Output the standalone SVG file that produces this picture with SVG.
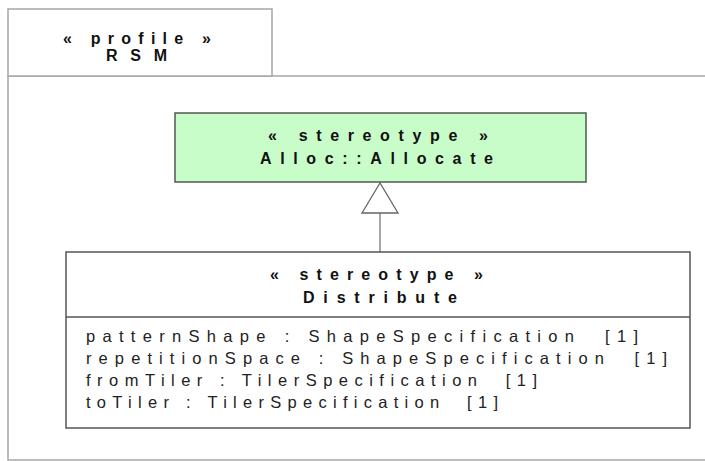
<svg xmlns="http://www.w3.org/2000/svg" width="705" height="461" viewBox="0 0 705 461">
<style>
.frame{fill:#fff;stroke:#a6a6a6;stroke-width:1.5}
.box{fill:#fff;stroke:#555;stroke-width:1.5}
.green{fill:#c8fcc8;stroke:#505a50;stroke-width:1.5}
.b{font-family:"Liberation Sans",Arial,sans-serif;font-weight:bold;font-size:16px;fill:#111}
.n{font-family:"Liberation Sans",Arial,sans-serif;font-size:16.5px;fill:#222;white-space:pre}
.conn{fill:none;stroke:#777;stroke-width:1.3}
</style>
<rect width="705" height="461" fill="#fff"/>
<g id="profile-frame">
<rect class="frame" x="8" y="76" width="710" height="384"/>
<rect class="frame" x="8" y="9" width="264" height="67"/>
<text class="b" x="63" y="44" textLength="148" lengthAdjust="spacing">« profile »</text>
<text class="b" x="106" y="61" textLength="61" lengthAdjust="spacing">RSM</text>
</g>
<g id="connectors">
<line class="conn" x1="380" y1="213" x2="380" y2="252"/>
<polygon points="380,183 362,213 398,213" fill="#fff" stroke="#666" stroke-width="1.3"/>
</g>
<g id="allocate">
<rect class="green" x="175" y="113" width="411" height="69"/>
<text class="b" x="268" y="141" textLength="220" lengthAdjust="spacing">« stereotype »</text>
<text class="b" x="260" y="164" textLength="233" lengthAdjust="spacing">Alloc::Allocate</text>
</g>
<g id="distribute">
<rect class="box" x="66" y="252" width="624" height="176"/>
<line x1="66" y1="317" x2="690" y2="317" stroke="#555" stroke-width="1.5"/>
<text class="b" x="270" y="280" textLength="213" lengthAdjust="spacing">« stereotype »</text>
<text class="b" x="303" y="303" textLength="154" lengthAdjust="spacing">Distribute</text>
<text class="n" x="86" y="342" textLength="552" lengthAdjust="spacing" xml:space="preserve">patternShape : ShapeSpecification  [1]</text>
<text class="n" x="86" y="364" textLength="581" lengthAdjust="spacing" xml:space="preserve">repetitionSpace : ShapeSpecification  [1]</text>
<text class="n" x="86" y="386" textLength="451" lengthAdjust="spacing" xml:space="preserve">fromTiler : TilerSpecification  [1]</text>
<text class="n" x="86" y="408" textLength="412" lengthAdjust="spacing" xml:space="preserve">toTiler : TilerSpecification  [1]</text>
</g>
</svg>
